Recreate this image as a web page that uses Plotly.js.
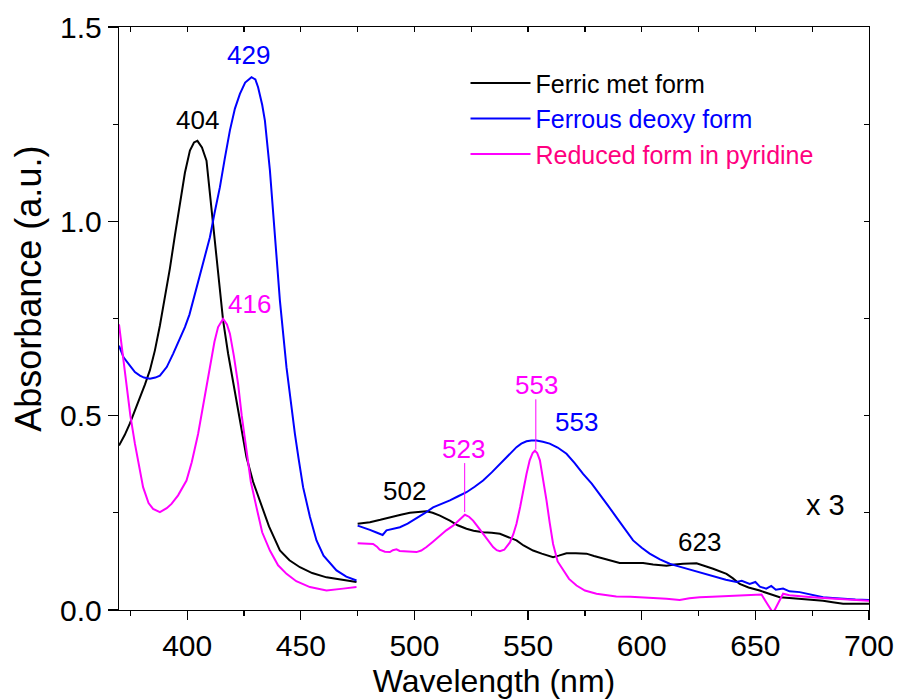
<!DOCTYPE html>
<html>
<head>
<meta charset="utf-8">
<script src="https://cdn.plot.ly/plotly-3.0.1.min.js"></script>
<style>html,body{margin:0;padding:0;background:#fff;}#chart{width:900px;height:700px;}</style>
</head>
<body>
<div id="chart"></div>
<script>
// ---- Data (wavelength in nm, absorbance in a.u.); the 475-700 nm region is shown x 3 ----
var ferricLeftX = [370,372.5,374.8,377,379.2,381.4,383.6,385.8,388,390.2,392.4,394.6,396.8,399,401.2,403,404.5,406.5,408.5,410.7,412.9,415.8,418,421.7,426.1,429,432,436,440.8,445,449.6,455,461.3,468,474.5];
var ferricLeftY = [0.423,0.45,0.48,0.512,0.545,0.58,0.617,0.668,0.732,0.802,0.879,0.964,1.041,1.125,1.182,1.203,1.207,1.19,1.156,1.036,0.899,0.745,0.66,0.539,0.393,0.33,0.282,0.215,0.153,0.128,0.110,0.095,0.084,0.077,0.072];
var ferricRightX = [475,480.4,485,489.2,494,498,502,505.3,508,511.2,515.6,519,522.9,526,530.2,534,537.6,541,544.9,548,552.2,556,561,563.5,566.9,571,575.7,579,583,586.5,590.3,595,600.6,605,610.9,614.5,618.2,624.1,628,631.4,637.3,640,643.1,647,651.9,656,660.7,665,669.5,675,679.8,684,688.6,694,700];
var ferricRightY = [0.222,0.226,0.232,0.239,0.245,0.250,0.253,0.254,0.250,0.243,0.230,0.218,0.209,0.204,0.200,0.199,0.196,0.188,0.179,0.166,0.153,0.145,0.136,0.140,0.146,0.146,0.145,0.139,0.132,0.126,0.121,0.121,0.121,0.117,0.114,0.117,0.119,0.120,0.113,0.106,0.093,0.082,0.067,0.058,0.050,0.042,0.033,0.031,0.029,0.027,0.024,0.020,0.016,0.016,0.016];

var ferrousLeftX = [370,372,374.8,377,379.2,381,383.6,386,388,391,393.8,396.5,399,401,404,407,410,412,414.4,416.5,418.8,421,423.2,425.5,428.3,430,431.2,433,434.2,436.4,438.6,440.8,443.7,445.5,447.4,449,451,454,456.9,460,465.7,470,474.5];
var ferrousLeftY = [0.68,0.65,0.629,0.612,0.603,0.598,0.595,0.598,0.603,0.625,0.659,0.693,0.728,0.76,0.825,0.89,0.959,1.02,1.088,1.16,1.234,1.29,1.328,1.357,1.371,1.365,1.345,1.30,1.259,1.131,0.959,0.796,0.624,0.535,0.453,0.39,0.316,0.24,0.179,0.14,0.102,0.086,0.076];
var ferrousRightX = [475,478,480.4,483,486,487.7,490,493.6,497,500.9,504.5,508.2,512,515.6,519,522.9,526.5,530.2,534,537.6,541,544.9,547,549.3,551.5,553.7,556.5,559.5,563,566.9,570.5,574.2,578,581.5,585,588.8,592.5,596.2,600,603.5,608,612.3,617,622.6,628,632.9,637,641.7,644,647.5,650,652,654.8,657,659,662.2,665,669.5,674,679.8,684,688.6,694,700];
var ferrousRightY = [0.217,0.212,0.206,0.200,0.193,0.205,0.208,0.213,0.222,0.235,0.249,0.264,0.273,0.282,0.292,0.303,0.317,0.333,0.354,0.376,0.397,0.419,0.428,0.434,0.436,0.436,0.433,0.428,0.418,0.402,0.378,0.350,0.325,0.299,0.270,0.239,0.208,0.179,0.160,0.145,0.130,0.119,0.111,0.102,0.093,0.084,0.078,0.072,0.075,0.067,0.072,0.060,0.055,0.062,0.052,0.055,0.048,0.046,0.040,0.033,0.031,0.029,0.027,0.026];

var pyridineLeftX = [370,371.5,373.3,375,377,379,380.6,383,385,388,391,393.1,396,399.7,402,404.8,407.5,410,412,413.6,415.8,417.5,418.8,420.5,422.4,424,426.1,428,430.5,433,436.4,440,443.7,448,454,461.3,468.6,474.5];
var pyridineLeftY = [0.735,0.66,0.582,0.50,0.428,0.36,0.316,0.275,0.260,0.252,0.262,0.273,0.295,0.333,0.38,0.453,0.54,0.625,0.69,0.728,0.749,0.735,0.711,0.655,0.582,0.50,0.410,0.33,0.264,0.20,0.153,0.115,0.093,0.074,0.059,0.050,0.055,0.059];
var pyridineRightX = [475,478,481.8,483.5,484.7,487,489.2,490.5,492.1,493.5,495,498,500.9,503,505.3,508,511.2,514,517,520,522.2,524,525.8,528,530.2,532.5,534.6,536.2,537.6,539.5,542,543.5,544.9,546.5,547.8,549.3,550.7,552,553,554,555.2,556.7,558.1,559.5,561,563,565.4,568,571.3,575,580.1,584,588.8,595,600.6,605,610.9,616.7,621,625.5,631,637.3,642,647.5,652.7,654.8,656.5,657.5,658.5,659.9,661,662.2,665,669.5,675,679.8,685,690,695,700];
var pyridineRightY = [0.172,0.171,0.170,0.163,0.155,0.150,0.149,0.154,0.156,0.152,0.151,0.149,0.149,0.153,0.162,0.175,0.192,0.205,0.217,0.234,0.245,0.240,0.230,0.213,0.196,0.178,0.162,0.154,0.151,0.155,0.174,0.195,0.222,0.265,0.307,0.350,0.385,0.404,0.410,0.404,0.385,0.335,0.282,0.225,0.170,0.125,0.102,0.080,0.063,0.050,0.042,0.038,0.035,0.034,0.033,0.031,0.029,0.026,0.030,0.033,0.034,0.036,0.038,0.040,0.040,0.020,0.003,-0.005,0.000,0.016,0.030,0.042,0.038,0.035,0.033,0.031,0.029,0.027,0.025,0.024];

var seriesNames = ['Ferric met form', 'Ferrous deoxy form', 'Reduced form in pyridine'];
var seriesColors = ['#000000', '#0000ff', '#ff00ff'];
var legendTextColors = ['#000000', '#0000ff', '#ff0080'];

// Peak labels
var peakLabels = ['404', '429', '416', '502', '523', '553', '553', '623', 'x 3'];
var peakLabelX = [404.7, 427.1, 427.6, 495.7, 521.6, 553.7, 571.1, 625.5, 681];
var peakLabelY = [1.262, 1.427, 0.788, 0.306, 0.415, 0.580, 0.485, 0.174, 0.27];
var peakLabelColor = ['#000000', '#0000ff', '#ff00ff', '#000000', '#ff00ff', '#ff00ff', '#0000ff', '#000000', '#000000'];
// Marker lines for the reduced-form peaks: wavelength, from, to
var markerLineX = [522.1, 553.4];
var markerLineY0 = [0.252, 0.413];
var markerLineY1 = [0.378, 0.542];

function join(a, b) { return a.concat([null], b); }

var leftX = [ferricLeftX, ferrousLeftX, pyridineLeftX];
var leftY = [ferricLeftY, ferrousLeftY, pyridineLeftY];
var rightX = [ferricRightX, ferrousRightX, pyridineRightX];
var rightY = [ferricRightY, ferrousRightY, pyridineRightY];

var FONT = 'Liberation Sans, Arial, sans-serif';
var traces = [];
for (var i = 0; i < 3; i++) {
  traces.push({
    type: 'scatter', mode: 'lines',
    x: join(leftX[i], rightX[i]),
    y: join(leftY[i], rightY[i]),
    connectgaps: false,
    name: '<span style="color:' + legendTextColors[i] + '">' + seriesNames[i] + '</span>',
    line: {color: seriesColors[i], width: 2}
  });
}
// helper trace for the mirrored (inward) ticks on top/right
traces.push({type: 'scatter', mode: 'lines', x: [370], y: [0], xaxis: 'x2', yaxis: 'y2',
  showlegend: false, hoverinfo: 'skip', line: {color: 'rgba(0,0,0,0)'}});

var annotations = [];
for (var k = 0; k < peakLabels.length; k++) {
  annotations.push({
    x: peakLabelX[k], y: peakLabelY[k], xref: 'x', yref: 'y',
    text: peakLabels[k], showarrow: false, xanchor: 'center', yanchor: 'middle',
    font: {family: FONT, size: k === 8 ? 29 : 26, color: peakLabelColor[k]}
  });
}
// y-axis title (placed as in the reference, slightly above the axis centre)
annotations.push({
  xref: 'paper', yref: 'paper', x: -0.12, y: 0.551, xanchor: 'center', yanchor: 'middle',
  text: 'Absorbance (a.u.)', textangle: -90, showarrow: false,
  font: {family: FONT, size: 36, color: '#000'}
});
var shapes = [];
for (var m = 0; m < markerLineX.length; m++) {
  shapes.push({type: 'line', xref: 'x', yref: 'y',
    x0: markerLineX[m], x1: markerLineX[m], y0: markerLineY0[m], y1: markerLineY1[m],
    line: {color: '#ff00ff', width: 1}});
}

var layout = {
  width: 900, height: 700,
  margin: {l: 119, r: 31, t: 27, b: 90},
  paper_bgcolor: '#ffffff', plot_bgcolor: '#ffffff',
  font: {family: FONT, color: '#000000'},
  showlegend: true,
  legend: {x: 0.462, y: 0.943, xanchor: 'left', yanchor: 'top', bgcolor: 'rgba(0,0,0,0)',
    itemwidth: 60,
    font: {family: FONT, size: 25, color: '#000000'}, tracegroupgap: 0},
  xaxis: {
    range: [370, 700], dtick: 50, tick0: 0,
    ticks: 'outside', ticklen: 9, tickwidth: 1.3, tickcolor: '#000',
    minor: {dtick: 25, ticks: 'outside', ticklen: 5, tickwidth: 1.3, tickcolor: '#000'},
    showline: true, linecolor: '#000', linewidth: 1.3, mirror: true,
    showgrid: false, zeroline: false,
    tickfont: {family: FONT, size: 30, color: '#000'},
    title: {text: 'Wavelength (nm)', font: {family: FONT, size: 32, color: '#000'}, standoff: 8}
  },
  yaxis: {
    range: [0, 1.5], dtick: 0.5, tick0: 0, tickformat: '.1f',
    ticks: 'outside', ticklen: 10, tickwidth: 1.3, tickcolor: '#000',
    minor: {dtick: 0.25, ticks: 'outside', ticklen: 5, tickwidth: 1.3, tickcolor: '#000'},
    showline: true, linecolor: '#000', linewidth: 1.3, mirror: true,
    showgrid: false, zeroline: false,
    tickfont: {family: FONT, size: 30, color: '#000'}
  },
  xaxis2: {
    overlaying: 'x', side: 'top', anchor: 'y2', range: [370, 700], dtick: 25, tick0: 0,
    ticks: 'inside', ticklen: 5, tickwidth: 1.3, tickcolor: '#000',
    showticklabels: false, showgrid: false, zeroline: false, showline: false
  },
  yaxis2: {
    overlaying: 'y', side: 'right', anchor: 'x2', range: [0, 1.5], dtick: 0.25, tick0: 0,
    ticks: 'inside', ticklen: 5, tickwidth: 1.3, tickcolor: '#000',
    showticklabels: false, showgrid: false, zeroline: false, showline: false
  },
  annotations: annotations,
  shapes: shapes
};

Plotly.newPlot('chart', traces, layout, {staticPlot: true, displayModeBar: false});
</script>
</body>
</html>
